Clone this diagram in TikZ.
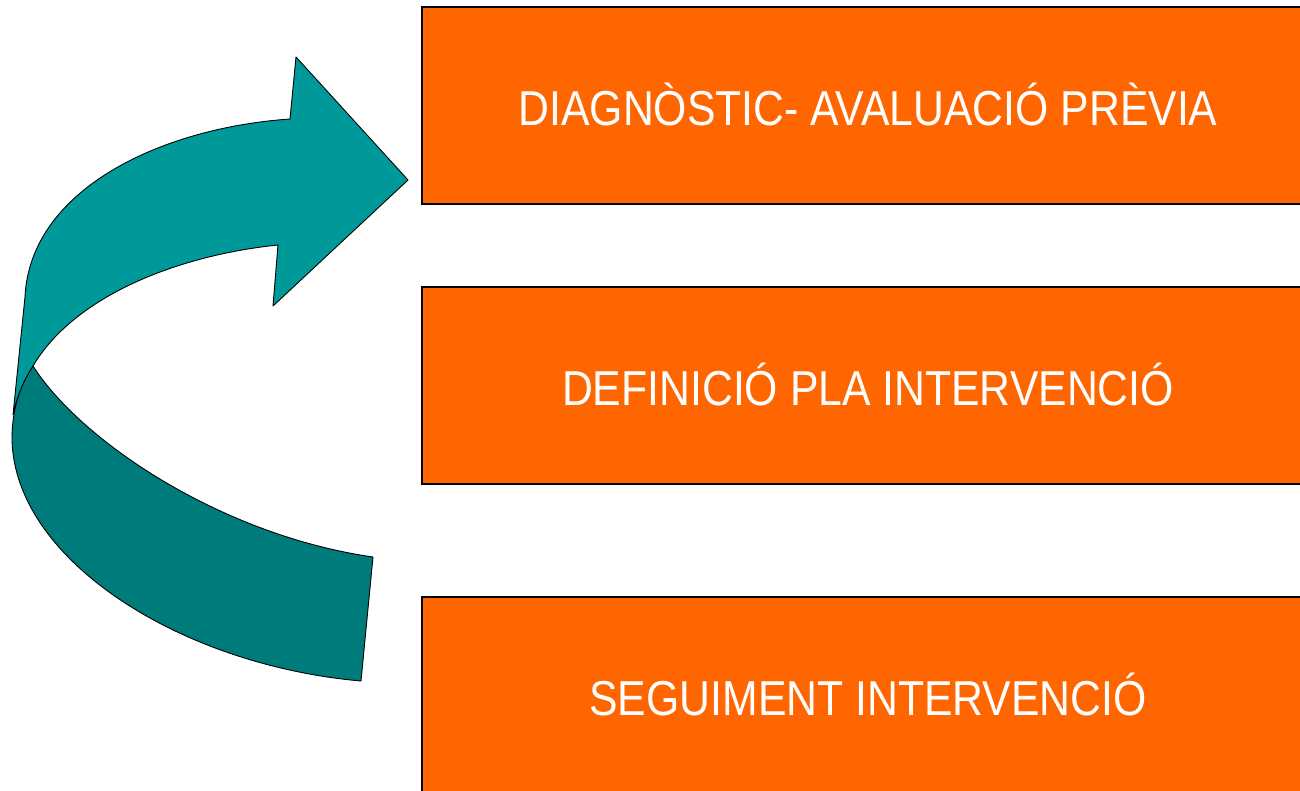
\documentclass[tikz,border=0pt]{standalone}
\usepackage{fontspec}
\setmainfont{Liberation Sans}
\definecolor{boxorange}{RGB}{255,102,0}
\definecolor{teallight}{RGB}{0,153,153}
\definecolor{tealdark}{RGB}{0,123,123}
\tikzset{
  stagebox/.style={draw=black, line width=1.5pt, fill=boxorange, text=white,
    minimum width=890pt, minimum height=197pt, inner sep=0pt,
    font=\fontsize{49}{55}\selectfont},
  bandlight/.style={fill=teallight, draw=black, line width=0.9pt, line join=round},
  banddark/.style={fill=tealdark, draw=black, line width=0.9pt, line join=round}
}
\begin{document}
\begin{tikzpicture}[x=1pt,y=-1pt]
\useasboundingbox (0,0) rectangle (1300,790);
\clip (0,0) rectangle (1300,790);
\fill[white] (0,0) rectangle (1300,790);
% boxes
\draw[stagebox] (422,7) rectangle (1312,204);
\node[stagebox, draw=none, fill=none] (b1) at (868,104) {\scalebox{0.872}[1]{DIAGNÒSTIC- AVALUACIÓ PRÈVIA}};
\draw[stagebox] (422,287) rectangle (1312,484);
\node[stagebox, draw=none, fill=none] (b2) at (868,384) {\scalebox{0.872}[1]{DEFINICIÓ PLA INTERVENCIÓ}};
\draw[stagebox] (422,597) rectangle (1312,797);
\node[stagebox, draw=none, fill=none] (b3) at (868,694) {\scalebox{0.872}[1]{SEGUIMENT INTERVENCIÓ}};
% lower (dark) band
\draw[banddark] (33,366) .. controls (22,382) and (12,405) .. (12,440)
  .. controls (15,560) and (180,665) .. (361,681)
  -- (373,557)
  .. controls (220,535) and (80,440) .. cycle;
% upper (light) band with head
\draw[bandlight] (290,119) .. controls (160,128) and (30,190) .. (25,297)
  -- (13,415)
  .. controls (17,395) and (25,378) .. (33,366)
  .. controls (75,295) and (180,255) .. (278,245)
  -- (273,306) -- (408,180) -- (296,57) -- cycle;
\end{tikzpicture}
\end{document}
